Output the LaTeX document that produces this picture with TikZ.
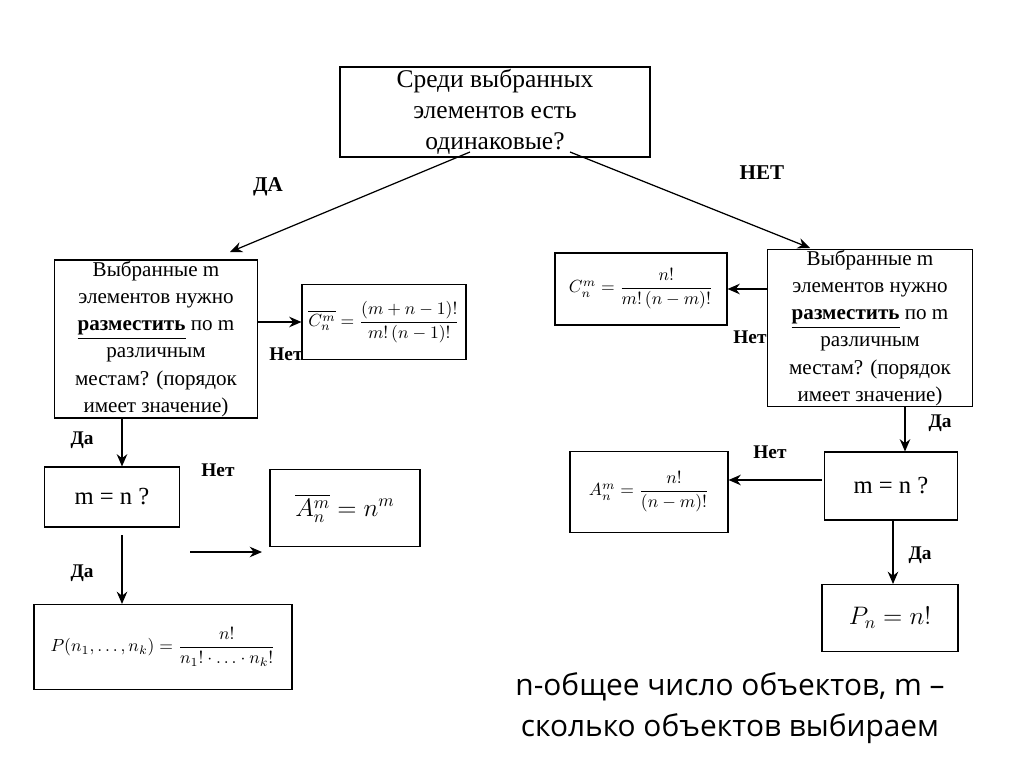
\documentclass[tikz,border=0pt]{standalone}
\usepackage{amsmath}
\usepackage{fontspec}
\setmainfont{Liberation Serif}
\newfontfamily\notefont{Open Sans}
\usetikzlibrary{arrows.meta}
\begin{document}
\begin{tikzpicture}[x=0.02cm,y=-0.02cm,
  box/.style={draw,line width=0.6pt,align=center,inner sep=0pt},
  lbl/.style={font=\bfseries\fontsize{11}{13}\selectfont,inner sep=0pt},
  arr/.style={-{Stealth[length=7pt,width=6pt]},line width=0.7pt}]
\useasboundingbox (0,0) rectangle (1024,767);
% top question
\node[box,minimum width=310*0.02cm,minimum height=90*0.02cm,font=\fontsize{14.5}{17.5}\selectfont] (q) at (495,112)
  {Среди выбранных\\элементов есть\\одинаковые?};
\node[lbl,font=\bfseries\fontsize{12}{14}\selectfont] (da0) at (268,187) {ДА};
\node[lbl,font=\bfseries\fontsize{12}{14}\selectfont] (net0) at (762,173) {НЕТ};
% left branch
\node[box,minimum width=203*0.02cm,minimum height=158*0.02cm,font=\fontsize{12}{15.5}\selectfont] (lq) at (156,339)
  {Выбранные m\\элементов нужно\\\textbf{\underline{разместить}} по m\\различным\\местам? (порядок\\имеет значение)};
\node[box,minimum width=164*0.02cm,minimum height=75*0.02cm] (cbar) at (384,322)
  {$\overline{C_n^m}=\dfrac{(m+n-1)!}{m!\,(n-1)!}$};
\node[lbl] (lnet1) at (286,354) {Нет};
\node[lbl] (lda1) at (82,440) {Да};
\node[box,minimum width=135*0.02cm,minimum height=60*0.02cm,font=\fontsize{14}{17}\selectfont] (lmn) at (112,497) {m = n ?};
\node[lbl] (lnet2) at (218,470) {Нет};
\node[box,minimum width=150*0.02cm,minimum height=77*0.02cm,font=\Large] (abar) at (345,508)
  {$\overline{A_n^m}=n^m$};
\node[lbl] (lda2) at (82,573) {Да};
\node[box,minimum width=258*0.02cm,minimum height=85*0.02cm] (pk) at (163,647)
  {$P(n_1,\dots,n_k)=\dfrac{n!}{n_1!\cdot\ldots\cdot n_k!}$};
\coordinate (lgo) at (190,552);
\coordinate (lx1) at (122,418);
\coordinate (lx2) at (122,535);
% right branch
\node[box,minimum width=205*0.02cm,minimum height=157*0.02cm,font=\fontsize{12}{15.5}\selectfont] (rq) at (870,328)
  {Выбранные m\\элементов нужно\\\textbf{\underline{разместить}} по m\\различным\\местам? (порядок\\имеет значение)};
\node[box,minimum width=172*0.02cm,minimum height=72*0.02cm] (c) at (641,289)
  {$C_n^m=\dfrac{n!}{m!\,(n-m)!}$};
\node[lbl] (rnet1) at (750,337) {Нет};
\node[lbl] (rda1) at (940,423) {Да};
\node[box,minimum width=133*0.02cm,minimum height=68*0.02cm,font=\fontsize{14}{17}\selectfont] (rmn) at (891,486) {m = n ?};
\node[lbl] (rnet2) at (770,452) {Нет};
\node[box,minimum width=158*0.02cm,minimum height=81*0.02cm] (a) at (649,492)
  {$A_n^m=\dfrac{n!}{(n-m)!}$};
\node[lbl] (rda2) at (920,555) {Да};
\node[box,minimum width=136*0.02cm,minimum height=67*0.02cm,font=\Large] (pn) at (890,618) {$P_n=n!$};
\coordinate (rx1) at (905,407);
\coordinate (rx2) at (893,520);
\coordinate (rgo) at (822,480);
% note
\node[font=\notefont\fontsize{17}{23}\selectfont,align=center,inner sep=0pt] (note) at (730,708)
  {n-общее число объектов, m –\\сколько объектов выбираем};
% arrows
\coordinate (qa) at (470,152);
\coordinate (qb) at (570,152);
\coordinate (la) at (230,252);
\coordinate (ra) at (810,248);
\draw[arr] (qa) -- (la);
\draw[arr] (qb) -- (ra);
\draw[arr] (lq.east|-cbar) -- (cbar.west);
\draw[arr] (lx1) -- (lx1|-lmn.north);
\draw[arr] (lgo) -- ++(72,0);
\draw[arr] (lx2) -- (lx2|-pk.north);
\draw[arr] (rq.west|-c) -- (c.east);
\draw[arr] (rx1) -- (rx1|-rmn.north);
\draw[arr] (rgo) -- (rgo-|a.east);
\draw[arr] (rx2) -- (rx2|-pn.north);
\end{tikzpicture}
\end{document}
